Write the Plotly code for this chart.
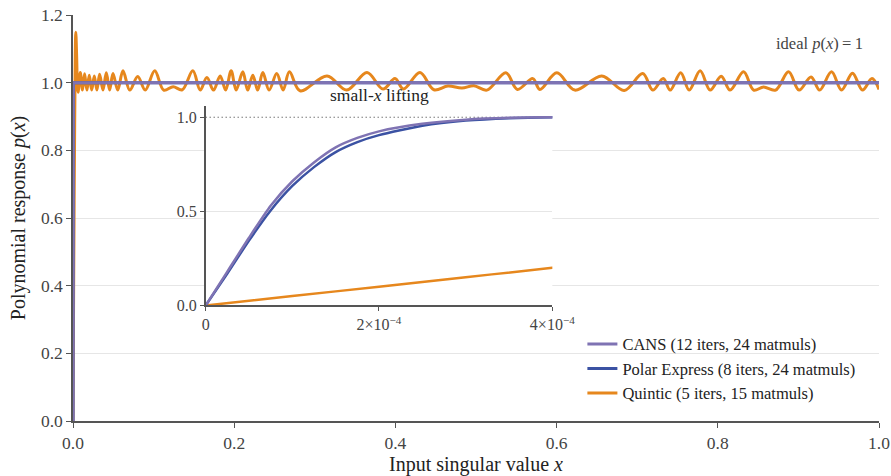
import plotly.graph_objects as go

# ---------------- data ----------------
# CANS and Polar Express: sharp lift near x = 0, then flat at 1
lift_x = [0, 0.25e-4, 0.5e-4, 0.75e-4, 1.0e-4, 1.25e-4, 1.5e-4, 1.75e-4,
          2.0e-4, 2.5e-4, 3.0e-4, 3.5e-4, 4.0e-4, 1.0]
cans_y = [0, 0.18, 0.36, 0.53, 0.66, 0.76, 0.84, 0.89,
          0.925, 0.965, 0.987, 0.997, 1.0, 1.0]
polar_y = [0, 0.17, 0.345, 0.505, 0.635, 0.735, 0.815, 0.868,
           0.905, 0.955, 0.982, 0.995, 1.0, 1.0]

# Quintic: linear start, overshoot spike, then ripple around 1
quintic_x = [0, 0.0001, 0.0002, 0.0003, 0.0004, 0.001, 0.002, 0.0028, 0.00347, 0.0045, 0.0055,
             0.00632, 0.00905, 0.01177, 0.01438, 0.01723, 0.0202, 0.0232, 0.0264, 0.0297,
             0.0330, 0.0372, 0.0413, 0.0455, 0.0496, 0.0555, 0.0620, 0.0704, 0.0803, 0.0896,
             0.1014, 0.1125, 0.1243, 0.1355, 0.1487, 0.1578, 0.1661, 0.1743, 0.1826, 0.1894,
             0.1962, 0.2024, 0.2107, 0.2167, 0.2231, 0.2291, 0.2355, 0.2433, 0.2528, 0.2607,
             0.2685, 0.2817, 0.3152, 0.3396, 0.3648, 0.3846, 0.3995, 0.4100, 0.4305, 0.4478,
             0.4652, 0.4825, 0.4974, 0.5135, 0.5371, 0.5513, 0.5705, 0.5792, 0.6003, 0.6226,
             0.6560, 0.6839, 0.7069, 0.7193, 0.7323, 0.7409, 0.7540, 0.7645, 0.7781, 0.7905,
             0.8042, 0.8153, 0.8320, 0.8444, 0.8568, 0.8717, 0.8878, 0.9008, 0.9157, 0.9263,
             0.9411, 0.9535, 0.9671, 0.9795, 0.9913, 1.0]
quintic_y = [0, 0.05, 0.10, 0.15, 0.20, 0.48, 0.85, 1.08, 1.149, 1.08, 0.99,
             0.972, 1.030, 0.978, 1.026, 0.978, 1.022, 0.978, 1.020, 0.978,
             1.025, 0.978, 1.029, 0.978, 1.027, 0.978, 1.035, 0.978, 1.018, 0.978,
             1.035, 0.978, 0.988, 0.979, 1.035, 0.978, 1.015, 0.978, 1.020, 0.978,
             1.035, 0.978, 1.032, 0.978, 1.022, 0.978, 1.030, 0.978, 1.027, 0.978,
             1.032, 0.976, 1.020, 0.978, 1.030, 0.981, 1.012, 0.981, 1.030, 0.979,
             0.990, 0.984, 0.991, 0.978, 1.029, 0.980, 1.012, 0.980, 1.029, 0.978,
             1.020, 0.977, 1.027, 0.978, 1.012, 0.978, 1.029, 0.978, 1.035, 0.978,
             1.019, 0.978, 1.032, 0.978, 0.987, 0.978, 1.032, 0.978, 1.017, 0.978,
             1.032, 0.978, 1.028, 0.978, 1.012, 0.980]

ideal_x = [0, 4e-4]
ideal_y = [1.0, 1.0]

main_y_ticks = [0.0, 0.2, 0.4, 0.6, 0.8, 1.0, 1.2]
main_x_ticks = [0.0, 0.2, 0.4, 0.6, 0.8, 1.0]
inset_y_ticks = [0.0, 0.5, 1.0]
inset_x_ticks = [0, 2e-4, 4e-4]
inset_x_labels = ["0", "2×10<sup>−4</sup>", "4×10<sup>−4</sup>"]

names = ["CANS (12 iters, 24 matmuls)",
         "Polar Express (8 iters, 24 matmuls)",
         "Quintic (5 iters, 15 matmuls)"]

C_CANS = "#7f73b3"
C_POLAR = "#3b52a3"
C_QUIN = "#e6871d"
FONT = "Liberation Serif"
TICKC = "#444444"

fig = go.Figure()

# main traces (draw order: quintic, polar, cans on top)
fig.add_trace(go.Scatter(x=quintic_x, y=quintic_y, name=names[2], mode="lines",
                         line=dict(color=C_QUIN, width=3, shape="spline", smoothing=1.0),
                         xaxis="x", yaxis="y"))
fig.add_trace(go.Scatter(x=lift_x, y=polar_y, name=names[1], mode="lines",
                         line=dict(color=C_POLAR, width=3), xaxis="x", yaxis="y"))
fig.add_trace(go.Scatter(x=lift_x, y=cans_y, name=names[0], mode="lines",
                         line=dict(color=C_CANS, width=3), xaxis="x", yaxis="y"))

# inset traces
fig.add_trace(go.Scatter(x=ideal_x, y=ideal_y, mode="lines", showlegend=False,
                         line=dict(color="#333333", width=1, dash="1px,3px"),
                         xaxis="x2", yaxis="y2"))
fig.add_trace(go.Scatter(x=quintic_x, y=quintic_y, mode="lines", showlegend=False,
                         line=dict(color=C_QUIN, width=2.5, shape="spline", smoothing=1.0),
                         xaxis="x2", yaxis="y2"))
fig.add_trace(go.Scatter(x=lift_x, y=polar_y, mode="lines", showlegend=False,
                         line=dict(color=C_POLAR, width=2.5, shape="spline", smoothing=0.6),
                         xaxis="x2", yaxis="y2"))
fig.add_trace(go.Scatter(x=lift_x, y=cans_y, mode="lines", showlegend=False,
                         line=dict(color=C_CANS, width=2.5, shape="spline", smoothing=0.6),
                         xaxis="x2", yaxis="y2"))

fig.update_layout(
    width=891, height=476,
    margin=dict(l=73, r=12, t=15, b=55, autoexpand=False),
    paper_bgcolor="white", plot_bgcolor="white",
    font=dict(family=FONT, color="#222222"),
    showlegend=True,
    legend=dict(x=0.632, y=0.232, xanchor="left", yanchor="top",
                traceorder="reversed", bgcolor="rgba(0,0,0,0)",
                font=dict(family=FONT, size=16.5, color="#222222"),
                itemwidth=30, tracegroupgap=0),
    xaxis=dict(domain=[0, 1], range=[0, 1], tickvals=main_x_ticks, tickformat=".1f",
               automargin=False,
               showgrid=False, zeroline=False, showline=True, linecolor="#555555",
               linewidth=2, ticks="outside", ticklen=5, tickcolor="#555555",
               tickfont=dict(family=FONT, size=17.5, color=TICKC),
               title=dict(text="Input singular value <i>x</i>",
                          font=dict(family=FONT, size=20, color="#222222"), standoff=6)),
    yaxis=dict(domain=[0, 1], range=[0, 1.2], tickvals=main_y_ticks, tickformat=".1f",
               automargin=False,
               showgrid=True, gridcolor="#e6e6e6", gridwidth=1, zeroline=False,
               showline=True, linecolor="#555555", linewidth=1.5,
               ticks="outside", ticklen=5, tickcolor="#555555",
               tickfont=dict(family=FONT, size=17.5, color=TICKC),
               title=dict(text="Polynomial response <i>p</i>(<i>x</i>)",
                          font=dict(family=FONT, size=20, color="#222222"), standoff=10)),
    xaxis2=dict(domain=[0.1646, 0.5947], range=[0, 4e-4], anchor="y2",
                automargin=False,
                tickvals=inset_x_ticks, ticktext=inset_x_labels,
                showgrid=False, zeroline=False, showline=True, linecolor="#555555",
                linewidth=1.5, ticks="outside", ticklen=4, tickcolor="#555555",
                tickfont=dict(family=FONT, size=16, color=TICKC)),
    yaxis2=dict(domain=[0.2845, 0.776], range=[0, 1.06], anchor="x2",
                automargin=False,
                tickvals=inset_y_ticks, tickformat=".1f",
                showgrid=False, zeroline=False, showline=True, linecolor="#555555",
                linewidth=1.5, ticks="outside", ticklen=4, tickcolor="#555555",
                tickfont=dict(family=FONT, size=16, color=TICKC),
                minor=dict(tickmode="array", tickvals=[0.5], showgrid=True,
                           gridcolor="#e6e6e6", gridwidth=1, ticks="")),
    annotations=[
        dict(text="ideal <i>p</i>(<i>x</i>)\u2009=\u20091", xref="paper", yref="paper",
             x=0.983, y=0.931, xanchor="right", yanchor="middle", showarrow=False,
             font=dict(family=FONT, size=16.5, color=TICKC)),
        dict(text="small-<i>x</i> lifting", xref="paper", yref="paper",
             x=0.3797, y=0.803, xanchor="center", yanchor="middle", showarrow=False,
             font=dict(family=FONT, size=17.5, color="#222222")),
    ],
)

fig.write_html("out.html")
